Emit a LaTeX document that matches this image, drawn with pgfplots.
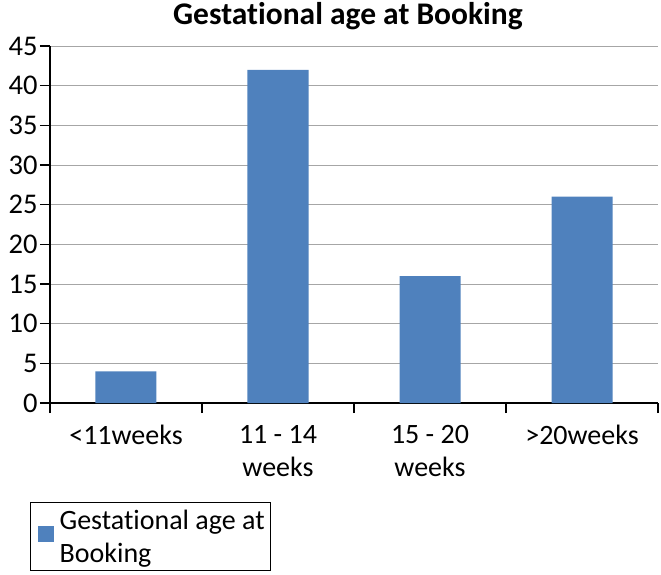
\documentclass[border=0pt]{standalone}
\usepackage{fontspec}
\setmainfont{Carlito}[Ligatures=NoCommon]
\usepackage{pgfplots}
\pgfplotsset{compat=1.18}
\definecolor{barblue}{HTML}{4F81BD}
\definecolor{gridgray}{HTML}{A6A6A6}
\begin{document}
\begin{tikzpicture}
\useasboundingbox (-50pt,-171pt) rectangle (611pt,403pt);
\begin{axis}[
  scale only axis,
  width=608pt, height=357pt,
  xmin=-0.5, xmax=3.5,
  ymin=0, ymax=45,
  ytick={0,5,...,45},
  xtick={-0.5,0.5,1.5,2.5,3.5},
  xticklabels={{<11weeks},{11 - 14\\weeks},{15 - 20\\weeks},{>20weeks},{}},
  xticklabel style={xshift=76pt, yshift=-9pt, align=center, font=\fontsize{28}{33}\selectfont},
  yticklabel style={font=\fontsize{28.5}{33}\selectfont, xshift=1pt},
  /pgf/number format/assume math mode=true,
  axis x line*=bottom,
  axis y line*=left,
  axis line style={line width=1.6pt, black},
  tick style={line width=1.6pt, black},
  major tick length=10pt,
  tick align=outside,
  ymajorgrids,
  grid style={gridgray, line width=0.9pt},
  title={Gestational age at Booking},
  title style={font=\bfseries\fontsize{31.5}{36}\selectfont, at={(0.49,1)}, anchor=south, yshift=7pt},
  ybar, bar width=61pt,
  legend style={at={(-0.033,-0.277)}, anchor=north west, draw=black, line width=1.4pt,
    inner xsep=3pt, inner ysep=5pt,
    font=\fontsize{28}{33}\selectfont,
    nodes={align=left, inner xsep=3pt, inner ysep=2pt}},
  legend cell align=left,
  legend image code/.code={\path (0pt,0pt) (23pt,0pt); \fill[#1] (4pt,-5pt) rectangle (20pt,11pt);},
]
\addplot[fill=barblue, draw=none] coordinates {(0,4) (1,42) (2,16) (3,26)};
\addlegendentry{Gestational age at\\Booking}
\end{axis}
\end{tikzpicture}
\end{document}
